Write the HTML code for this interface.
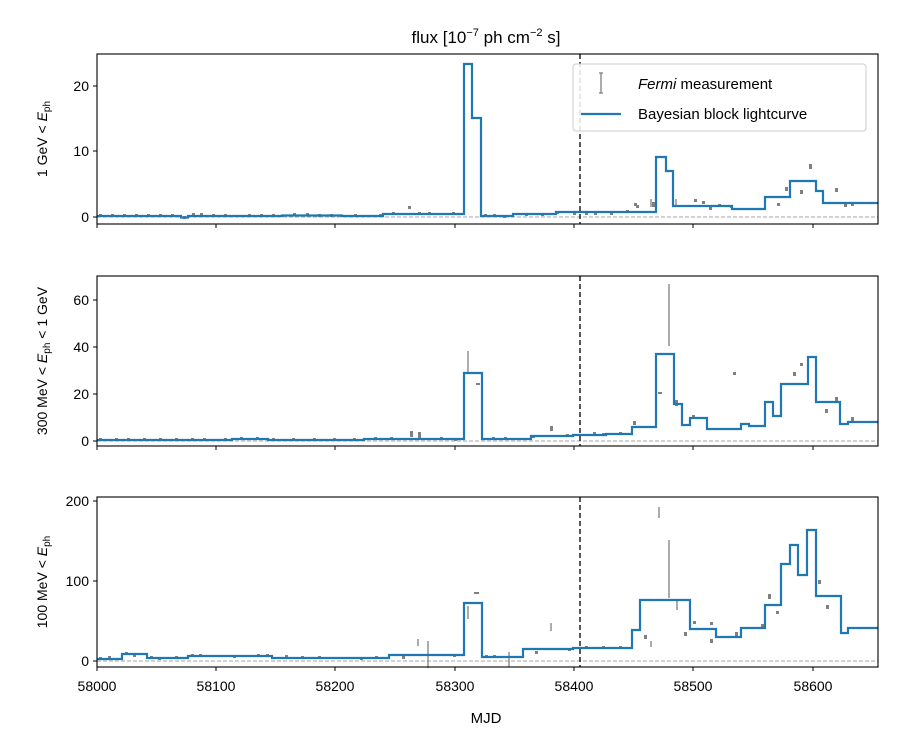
<!DOCTYPE html>
<html><head><meta charset="utf-8"><style>
html,body{margin:0;padding:0;background:#fff}
svg{display:block;font-family:"Liberation Sans","DejaVu Sans",sans-serif}
</style></head><body>
<svg width="900" height="750" viewBox="0 0 900 750" xmlns="http://www.w3.org/2000/svg">
<rect width="900" height="750" fill="#fff"/>
<text x="486" y="43" font-size="17" text-anchor="middle">flux [10<tspan font-size="11" dy="-7">−7</tspan><tspan dy="7"> ph cm</tspan><tspan font-size="11" dy="-7">−2</tspan><tspan dy="7"> s]</tspan></text>

<g stroke="#888" stroke-width="0.8" stroke-dasharray="4,2">
<line x1="97" y1="217" x2="878" y2="217"/>
<line x1="97" y1="441" x2="878" y2="441"/>
<line x1="97" y1="661" x2="878" y2="661"/>
</g>
<g stroke="#000" stroke-width="1.3" stroke-dasharray="5,3">
<line x1="580" y1="54" x2="580" y2="224"/>
<line x1="580" y1="276" x2="580" y2="446"/>
<line x1="580" y1="497" x2="580" y2="667"/>
</g>

<g fill="#808080" stroke="#808080" stroke-width="1.3">
<!-- baseline points -->
<g stroke="none">
<rect x="99" y="214" width="3" height="3"/><rect x="111" y="214" width="3" height="3"/><rect x="123" y="214" width="3" height="3"/><rect x="135" y="214" width="3" height="3"/><rect x="147" y="214" width="3" height="3"/><rect x="159" y="214" width="3" height="3"/><rect x="171" y="214" width="3" height="3"/><rect x="183" y="216" width="3" height="3"/><rect x="192" y="213" width="3" height="3"/><rect x="200" y="213" width="3" height="3"/><rect x="212" y="214" width="3" height="3"/><rect x="224" y="214" width="3" height="3"/><rect x="248" y="214" width="3" height="3"/><rect x="260" y="214" width="3" height="3"/><rect x="272" y="214" width="3" height="3"/><rect x="293" y="213" width="3" height="3"/><rect x="306" y="213" width="3" height="3"/><rect x="318" y="214" width="3" height="3"/><rect x="330" y="214" width="3" height="3"/><rect x="354" y="214" width="3" height="3"/><rect x="379" y="214" width="3" height="3"/><rect x="392" y="212" width="3" height="3"/><rect x="418" y="212" width="3" height="3"/><rect x="428" y="212" width="3" height="3"/><rect x="452" y="212" width="3" height="3"/><rect x="484" y="214" width="3" height="3"/><rect x="493" y="214" width="3" height="3"/><rect x="503" y="215" width="3" height="3"/><rect x="525" y="213" width="3" height="3"/><rect x="541" y="213" width="3" height="3"/><rect x="556" y="211" width="3" height="3"/><rect x="573" y="212" width="3" height="3"/><rect x="585" y="212" width="3" height="3"/><rect x="594" y="212" width="3" height="3"/><rect x="610" y="212" width="3" height="3"/><rect x="626" y="210" width="3" height="3"/>
<rect x="99" y="438" width="3" height="3"/><rect x="115" y="438" width="3" height="3"/><rect x="127" y="438" width="3" height="3"/><rect x="143" y="438" width="3" height="3"/><rect x="159" y="438" width="3" height="3"/><rect x="175" y="438" width="3" height="3"/><rect x="191" y="438" width="3" height="3"/><rect x="203" y="438" width="3" height="3"/><rect x="224" y="438" width="3" height="3"/><rect x="240" y="437" width="3" height="3"/><rect x="256" y="437" width="3" height="3"/><rect x="272" y="438" width="3" height="3"/><rect x="292" y="438" width="3" height="3"/><rect x="313" y="438" width="3" height="3"/><rect x="333" y="438" width="3" height="3"/><rect x="353" y="438" width="3" height="3"/><rect x="374" y="437" width="3" height="3"/><rect x="390" y="437" width="3" height="3"/><rect x="440" y="437" width="3" height="3"/><rect x="454" y="438" width="3" height="3"/><rect x="492" y="437" width="3" height="3"/><rect x="504" y="437" width="3" height="3"/><rect x="532" y="435" width="3" height="3"/><rect x="566" y="434" width="3" height="3"/><rect x="593" y="432" width="3" height="3"/><rect x="602" y="433" width="3" height="3"/><rect x="619" y="432" width="3" height="3"/>
<rect x="99" y="657" width="3" height="3"/><rect x="108" y="656" width="3" height="3"/><rect x="125" y="652" width="3" height="3"/><rect x="133" y="654" width="3" height="3"/><rect x="150" y="656" width="3" height="3"/><rect x="158" y="657" width="3" height="3"/><rect x="175" y="656" width="3" height="3"/><rect x="191" y="654" width="3" height="3"/><rect x="199" y="654" width="3" height="3"/><rect x="233" y="655" width="3" height="3"/><rect x="257" y="654" width="3" height="3"/><rect x="266" y="654" width="3" height="3"/><rect x="285" y="655" width="3" height="3"/><rect x="301" y="656" width="3" height="3"/><rect x="318" y="656" width="3" height="3"/><rect x="360" y="657" width="3" height="3"/><rect x="375" y="656" width="3" height="3"/><rect x="402" y="656" width="3" height="3"/><rect x="453" y="654" width="3" height="3"/><rect x="485" y="655" width="3" height="3"/><rect x="493" y="655" width="3" height="3"/><rect x="535" y="651" width="3" height="3"/><rect x="568" y="648" width="3" height="3"/><rect x="585" y="646" width="3" height="3"/><rect x="602" y="646" width="3" height="3"/><rect x="619" y="646" width="3" height="3"/>
</g>
<!-- panel1 -->
<rect x="636" y="205" width="3" height="3" stroke="none"/><rect x="652" y="202" width="3" height="5" stroke="none"/>
<line x1="651" y1="199" x2="651" y2="207"/><line x1="676" y1="199" x2="676" y2="206"/>
<rect x="694" y="199" width="3" height="3" stroke="none"/><rect x="702" y="201" width="3" height="3" stroke="none"/>
<rect x="709" y="207" width="3" height="3" stroke="none"/><rect x="718" y="204" width="3" height="3" stroke="none"/>
<rect x="730" y="205" width="3" height="3" stroke="none"/><rect x="777" y="203" width="3" height="3" stroke="none"/>
<rect x="785" y="187" width="3" height="4" stroke="none"/><rect x="800" y="190" width="3" height="4" stroke="none"/>
<rect x="809" y="164" width="3" height="5" stroke="none"/><rect x="835" y="188" width="3" height="4" stroke="none"/>
<rect x="844" y="204" width="3" height="3" stroke="none"/><rect x="851" y="202" width="3" height="4" stroke="none"/>
<rect x="408" y="206" width="3" height="3" stroke="none"/><rect x="634" y="203" width="3" height="3" stroke="none"/>
<!-- panel2 -->
<line x1="468" y1="351" x2="468" y2="373"/><line x1="669" y1="284" x2="669" y2="346"/>
<rect x="476" y="383" width="4" height="2" stroke="none"/><rect x="658" y="392" width="4" height="2" stroke="none"/>
<rect x="550" y="426" width="3" height="5" stroke="none"/><rect x="633" y="421" width="3" height="4" stroke="none"/>
<rect x="675" y="400" width="3" height="6" stroke="none"/><rect x="692" y="415" width="3" height="4" stroke="none"/>
<rect x="733" y="372" width="3" height="3" stroke="none"/><rect x="793" y="372" width="3" height="4" stroke="none"/>
<rect x="800" y="363" width="3" height="3" stroke="none"/><rect x="825" y="409" width="3" height="4" stroke="none"/>
<rect x="835" y="397" width="3" height="4" stroke="none"/><rect x="851" y="417" width="3" height="4" stroke="none"/>
<rect x="410" y="431" width="3" height="6" stroke="none"/><rect x="418" y="432" width="3" height="6" stroke="none"/>
<!-- panel3 -->
<line x1="468" y1="606" x2="468" y2="619"/><rect x="474" y="592" width="5" height="2" stroke="none"/>
<line x1="551" y1="623" x2="551" y2="631"/><line x1="659" y1="507" x2="659" y2="518"/>
<line x1="669" y1="540" x2="669" y2="598"/><line x1="677" y1="599" x2="677" y2="610"/>
<line x1="651" y1="641" x2="651" y2="647"/><line x1="428" y1="641" x2="428" y2="668"/>
<line x1="418" y1="639" x2="418" y2="646"/><line x1="509" y1="652" x2="509" y2="667"/>
<rect x="644" y="635" width="3" height="4" stroke="none"/><rect x="684" y="632" width="3" height="4" stroke="none"/>
<rect x="693" y="621" width="3" height="3" stroke="none"/><rect x="710" y="622" width="3" height="3" stroke="none"/>
<rect x="710" y="639" width="3" height="4" stroke="none"/><rect x="735" y="632" width="3" height="4" stroke="none"/>
<rect x="761" y="624" width="3" height="3" stroke="none"/><rect x="768" y="594" width="3" height="5" stroke="none"/>
<rect x="776" y="611" width="3" height="3" stroke="none"/><rect x="818" y="580" width="3" height="4" stroke="none"/>
<rect x="826" y="605" width="3" height="4" stroke="none"/>
</g>

<g fill="none" stroke="#1f77b4" stroke-width="2.2" stroke-linejoin="miter">
<path d="M97,216 H181 V217.5 H188 V216 H282 V215.5 H342 V216 H383 V214 H464 V64 H472 V118 H481 V216 H513 V214 H556 V212 H656 V157 H666 V171 H673 V206 H732 V209 H765 V197 H790 V181 H816 V191 H823 V203 H878"/>
<path d="M97,440 H232 V439 H268 V440 H364 V439 H464 V373 H482 V439 H531 V436 H573 V435 H606 V434 H632 V427 H656 V354 H674 V404 H682 V425 H690 V418 H707 V429 H741 V424 H749 V426 H765 V402 H773 V416 H781 V384 H808 V357 H816 V402 H840 V424 H848 V422 H878"/>
<path d="M97,659 H122 V654 H147 V658 H188 V656 H272 V658 H389 V655 H464 V603 H482 V657 H523 V649 H573 V648 H632 V630 H640 V600 H690 V629 H716 V637 H741 V628 H765 V605 H781 V564 H790 V545 H798 V575 H807 V530 H816 V596 H841 V633 H848 V628 H878"/>
</g>

<g fill="none" stroke="#000" stroke-width="1.1">
<rect x="97" y="54" width="781" height="170"/>
<rect x="97" y="276" width="781" height="170"/>
<rect x="97" y="497" width="781" height="170"/>
</g>
<g stroke="#000" stroke-width="1">
<path d="M97,224v4M216,224v4M335,224v4M455,224v4M574,224v4M693,224v4M813,224v4"/>
<path d="M97,446v4M216,446v4M335,446v4M455,446v4M574,446v4M693,446v4M813,446v4"/>
<path d="M97,667v4M216,667v4M335,667v4M455,667v4M574,667v4M693,667v4M813,667v4"/>
<path d="M97,217h-4M97,151h-4M97,86h-4"/>
<path d="M97,441h-4M97,394h-4M97,347h-4M97,300h-4"/>
<path d="M97,661h-4M97,581h-4M97,501h-4"/>
</g>
<g font-size="14" text-anchor="end">
<text x="89" y="222">0</text><text x="89" y="156">10</text><text x="89" y="91">20</text>
<text x="89" y="446">0</text><text x="89" y="399">20</text><text x="89" y="352">40</text><text x="89" y="305">60</text>
<text x="89" y="666">0</text><text x="89" y="586">100</text><text x="89" y="506">200</text>
</g>
<g font-size="14" text-anchor="middle">
<text x="97" y="691">58000</text><text x="216" y="691">58100</text><text x="335" y="691">58200</text>
<text x="455" y="691">58300</text><text x="574" y="691">58400</text><text x="693" y="691">58500</text><text x="813" y="691">58600</text>
<text x="486" y="723" font-size="15">MJD</text>
</g>
<g font-size="14" text-anchor="middle">
<text transform="translate(47,139) rotate(-90)">1 GeV &lt; <tspan font-style="italic">E</tspan><tspan font-size="10" dy="3">ph</tspan></text>
<text transform="translate(47,361) rotate(-90)">300 MeV &lt; <tspan font-style="italic">E</tspan><tspan font-size="10" dy="3">ph</tspan><tspan dy="-3"> &lt; 1 GeV</tspan></text>
<text transform="translate(47,582) rotate(-90)">100 MeV &lt; <tspan font-style="italic">E</tspan><tspan font-size="10" dy="3">ph</tspan></text>
</g>

<rect x="573" y="64" width="293" height="67" rx="3" fill="#fff" fill-opacity="0.85" stroke="#ccc" stroke-width="1"/>
<g stroke="#808080" stroke-width="1.3"><line x1="601" y1="73" x2="601" y2="93"/><line x1="599" y1="73" x2="603" y2="73"/><line x1="599" y1="93" x2="603" y2="93"/></g>
<line x1="581" y1="114" x2="621" y2="114" stroke="#1f77b4" stroke-width="2.2"/>
<text x="638" y="89" font-size="15"><tspan font-style="italic">Fermi</tspan> measurement</text>
<text x="638" y="119" font-size="15">Bayesian block lightcurve</text>
</svg>
</body></html>
